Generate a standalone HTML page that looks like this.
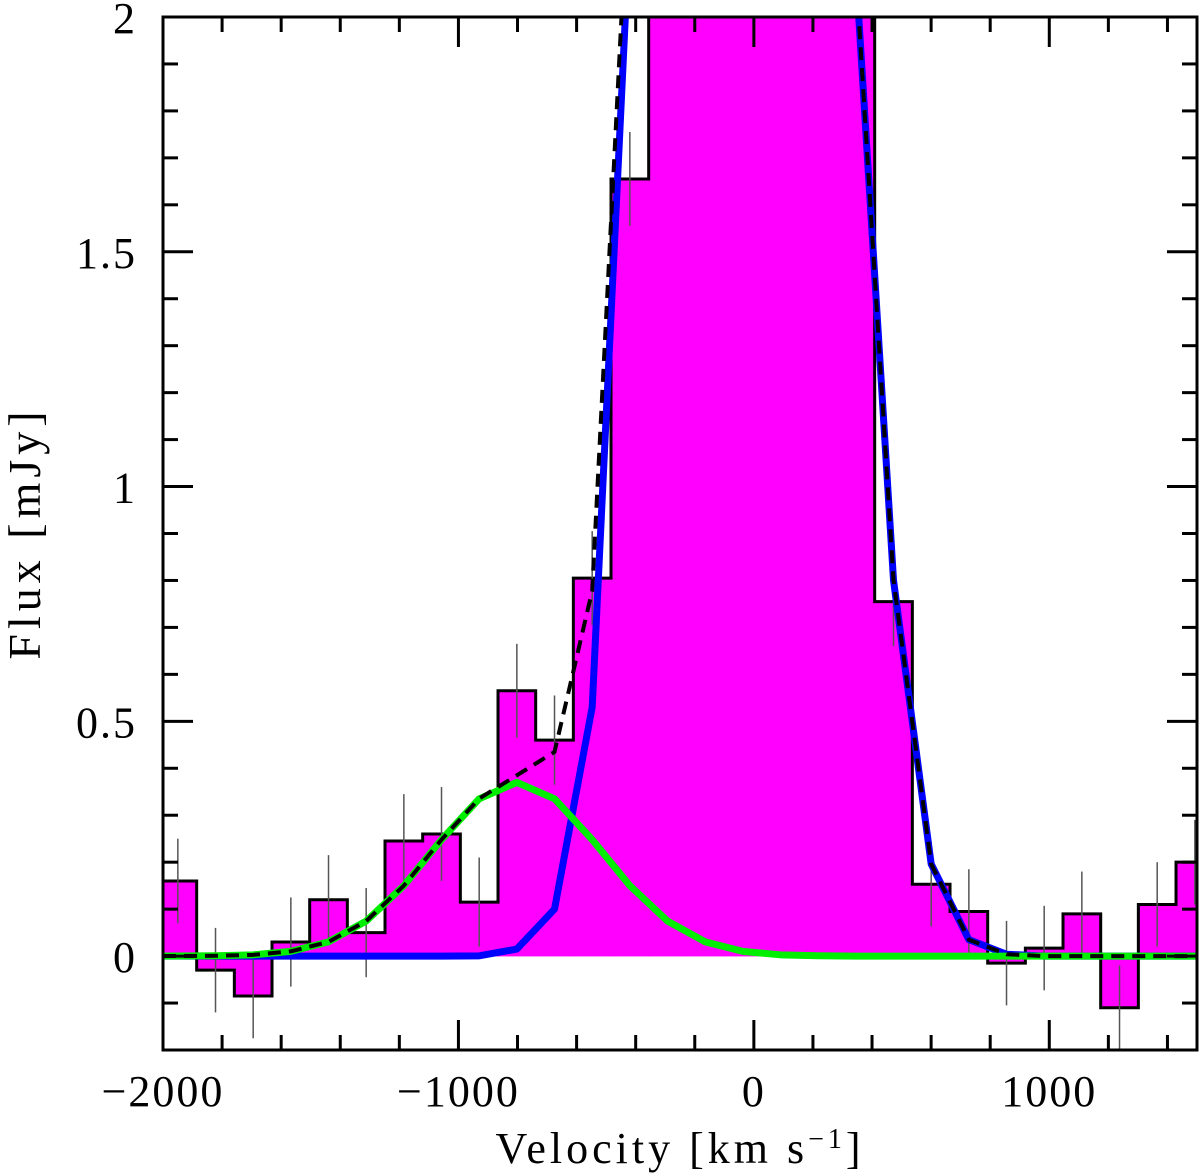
<!DOCTYPE html>
<html><head><meta charset="utf-8"><style>
html,body{margin:0;padding:0;background:#fff;}
svg{display:block;}
text{font-family:"Liberation Serif","DejaVu Serif",serif;fill:#000;}
</style></head><body>
<svg id="chart" width="1200" height="1174" viewBox="0 0 1200 1174" xmlns="http://www.w3.org/2000/svg">
<defs><clipPath id="plotclip"><rect x="163" y="17" width="1034" height="1033"/></clipPath></defs>
<g id="plot" clip-path="url(#plotclip)"></g>
<g id="axes"></g>
<text x="680" y="1163" text-anchor="middle" font-size="44" letter-spacing="4">Velocity [km s<tspan dy="-15" font-size="28">−1</tspan><tspan dy="15">]</tspan></text>
<text transform="translate(40,533) rotate(-90)" text-anchor="middle" font-size="46" letter-spacing="5">Flux [mJy]</text>
</svg>
<script>
// Data
const binStart = -2013.5;
const binWidth = 127.5;
const fluxValues = [0.16,-0.03,-0.085,0.03,0.12,0.05,0.245,0.26,0.115,0.565,0.46,0.805,1.655,2.6,3.5,4.0,3.8,3.2,2.4,0.755,0.153,0.095,-0.015,0.017,0.09,-0.11,0.11,0.2];
const fluxErrors = [0.09,0.09,0.09,0.095,0.095,0.095,0.1,0.1,0.095,0.1,0.095,0.1,0.1,0.1,0.1,0.1,0.1,0.1,0.1,0.095,0.09,0.09,0.09,0.09,0.09,0.09,0.09,0.09];
const mainModel = [0,0,0,0,0,0,0,0,0.0005,0.015,0.1,0.53,2.2,5.5,10,12.5,11,5.5,2.1,0.8,0.196,0.035,0.004,0,0,0,0,0];
const outflowModel = [0.0001,0.0006,0.0027,0.0101,0.0303,0.0746,0.150,0.248,0.335,0.37,0.335,0.248,0.150,0.0746,0.0303,0.0101,0.0027,0.0006,0,0,0,0,0,0,0,0,0,0];
const xTickLabels = [-2000,-1000,0,1000];
const yTickLabels = [0,0.5,1,1.5,2];

const X0=163,X1=1197,Y0=17,Y1=1050;
const xmin=-2000,xmax=1500,ymin=-0.2,ymax=2;
const sx=v=>X0+(v-xmin)/(xmax-xmin)*(X1-X0);
const sy=v=>Y1-(v-ymin)/(ymax-ymin)*(Y1-Y0);
const NS="http://www.w3.org/2000/svg";
const plot=document.getElementById('plot'), axes=document.getElementById('axes');
function mk(tag,attrs,parent){const e=document.createElementNS(NS,tag);for(const k in attrs)e.setAttribute(k,attrs[k]);parent.appendChild(e);return e;}

fluxValues.forEach((v,i)=>{
  const a=binStart+i*binWidth, b=a+binWidth;
  const r=mk('rect',{x:sx(a),y:Math.min(sy(v),sy(0)),width:sx(b)-sx(a)+0.6,height:Math.abs(sy(v)-sy(0)),fill:'#ff00ff',stroke:'#ff00ff','stroke-width':0.6},plot);
  
  
});
let d='';
fluxValues.forEach((v,i)=>{
  const a=binStart+i*binWidth, b=a+binWidth;
  d+=(i===0?'M':'L')+sx(a)+','+sy(v)+' L'+sx(b)+','+sy(v)+' ';
});
const step=mk('path',{d:d,fill:'none',stroke:'#000','stroke-width':3},plot);


fluxValues.forEach((v,i)=>{
  const c=binStart+(i+0.5)*binWidth;
  const l=mk('line',{x1:sx(c),x2:sx(c),y1:sy(v-fluxErrors[i]),y2:sy(v+fluxErrors[i]),stroke:'#555','stroke-width':1.5},plot);
  
  
});
function linePath(arr){
  return 'M'+sx(xmin)+','+sy(arr[0])+' '+arr.map((v,i)=>'L'+sx(binStart+(i+0.5)*binWidth)+','+sy(v)).join(' ')+' L'+sx(xmax)+','+sy(arr[arr.length-1]);
}
const blue=mk('path',{d:linePath(mainModel),fill:'none',stroke:'#0000ff','stroke-width':7,'stroke-linejoin':'round'},plot);


const green=mk('path',{d:linePath(outflowModel),fill:'none',stroke:'#00ee00','stroke-width':7,'stroke-linejoin':'round'},plot);


const total=mainModel.map((v,i)=>v+outflowModel[i]);
const dash=mk('path',{d:linePath(total),fill:'none',stroke:'#000','stroke-width':4,'stroke-dasharray':'13,8'},plot);



const fr=mk('rect',{x:X0,y:Y0,width:X1-X0,height:Y1-Y0,fill:'none',stroke:'#000','stroke-width':3},axes);


for(let v=-2000;v<=1500;v+=200){
  const major=(v%1000===0), L=major?30:15;
  mk('line',{x1:sx(v),x2:sx(v),y1:Y1,y2:Y1-L,stroke:'#000','stroke-width':3},axes);
  mk('line',{x1:sx(v),x2:sx(v),y1:Y0,y2:Y0+L,stroke:'#000','stroke-width':3},axes);
}
xTickLabels.forEach(v=>{
  const t=mk('text',{x:sx(v),y:1106,'text-anchor':'middle','font-size':44,'letter-spacing':2},axes);
  t.textContent=(v<0?'−':'')+Math.abs(v);
  
  
});
for(let k=-2;k<=20;k++){
  const v=k/10, major=(k%5===0), L=major?30:15;
  mk('line',{x1:X0,x2:X0+L,y1:sy(v),y2:sy(v),stroke:'#000','stroke-width':3},axes);
  mk('line',{x1:X1,x2:X1-L,y1:sy(v),y2:sy(v),stroke:'#000','stroke-width':3},axes);
}
yTickLabels.forEach(v=>{
  const t=mk('text',{x:137,y:sy(v)+16,'text-anchor':'end','font-size':44,'letter-spacing':2},axes);
  t.textContent=String(v);
  
  
});
</script>
</body></html>
